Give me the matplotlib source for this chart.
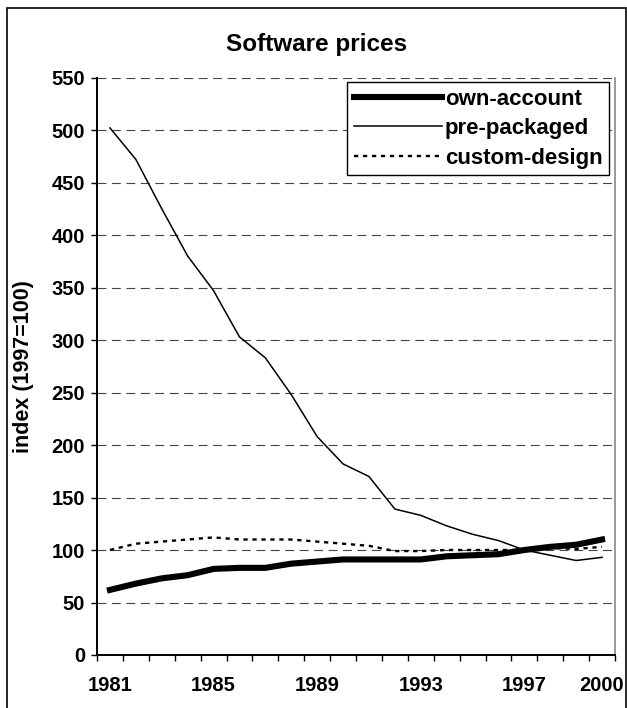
import matplotlib
matplotlib.use("Agg")
import matplotlib.pyplot as plt
from matplotlib.patches import Rectangle

years = list(range(1981, 2001))
own_account = [62, 68, 73, 76, 82, 83, 83, 87, 89, 91, 91, 91, 91, 94, 95, 96, 100, 103, 105, 110]
pre_packaged = [502, 472, 425, 380, 347, 303, 283, 248, 208, 182, 170, 139, 133, 123, 115, 109, 100, 95, 90, 93]
custom_design = [100, 106, 108, 110, 112, 110, 110, 110, 108, 106, 104, 99, 99, 100, 100, 100, 100, 102, 101, 103]
tick_years = [1981, 1985, 1989, 1993, 1997, 2000]
y_ticks = list(range(0, 551, 50))

plt.rcParams['font.family'] = ['Liberation Sans', 'DejaVu Sans']
plt.rcParams['font.weight'] = 'bold'

W, H = 627, 708
fig = plt.figure(figsize=(W / 100, H / 100), dpi=100)
ax = fig.add_axes([97 / W, 1 - 655 / H, (615 - 97) / W, (655 - 77.5) / H])

ax.set_ylim(0, 550)
ax.set_xlim(1980.5, 2000.5)

for y in y_ticks[1:]:
    ax.axhline(y, color='#444444', lw=0.8, dashes=(8, 5), zorder=1)

ax.plot(years, own_account, color='black', lw=4.4, solid_joinstyle='miter', zorder=3, label='own-account')
ax.plot(years, pre_packaged, color='black', lw=1.1, zorder=3, label='pre-packaged')
ax.plot(years, custom_design, color='black', lw=1.7, dashes=(1.8, 2.0), zorder=3, label='custom-design')

ax.set_yticks(y_ticks)
ax.set_yticklabels([str(v) for v in y_ticks], fontsize=14.5, fontweight='bold')
ax.tick_params(axis='y', length=4.5, width=1, pad=4, direction='out')

ax.set_xticks(tick_years)
ax.set_xticklabels([str(v) for v in tick_years], fontsize=14.5, fontweight='bold')
ax.set_xticks([1980.5 + k for k in range(21)], minor=True)
ax.tick_params(axis='x', which='major', length=0, pad=15)
ax.tick_params(axis='x', which='minor', length=4, width=1, direction='out')

ax.spines['top'].set_visible(False)
ax.spines['right'].set_color('#888888')
ax.spines['right'].set_linewidth(1.2)
ax.spines['left'].set_linewidth(1.4)
ax.spines['bottom'].set_linewidth(1.4)

ax.set_ylabel('index (1997=100)', fontsize=15.5, fontweight='bold')
ax.yaxis.set_label_coords(-0.122, 0.5)

fig.text(317 / W, 1 - 44 / H, 'Software prices', ha='center', va='center', fontsize=17.5, fontweight='bold')

leg = ax.legend(loc='upper right', bbox_to_anchor=(609 / W, 1 - 82 / H), bbox_transform=fig.transFigure,
                frameon=True, fancybox=False, shadow=False, fontsize=16, handlelength=4.0,
                handletextpad=0.1, labelspacing=0.38, borderpad=0.3, borderaxespad=0)
leg.get_frame().set_edgecolor('black')
leg.get_frame().set_linewidth(1.0)
leg.get_frame().set_facecolor('white')
leg.get_frame().set_alpha(1)
for t in leg.get_texts():
    t.set_fontweight('bold')

fig.patches.append(Rectangle((6.5 / W, -0.02), (625.5 - 6.5) / W, 1 - 8 / H + 0.02,
                             transform=fig.transFigure, fill=False, edgecolor='black', lw=1.2))

fig.savefig('out.png', dpi=100)
